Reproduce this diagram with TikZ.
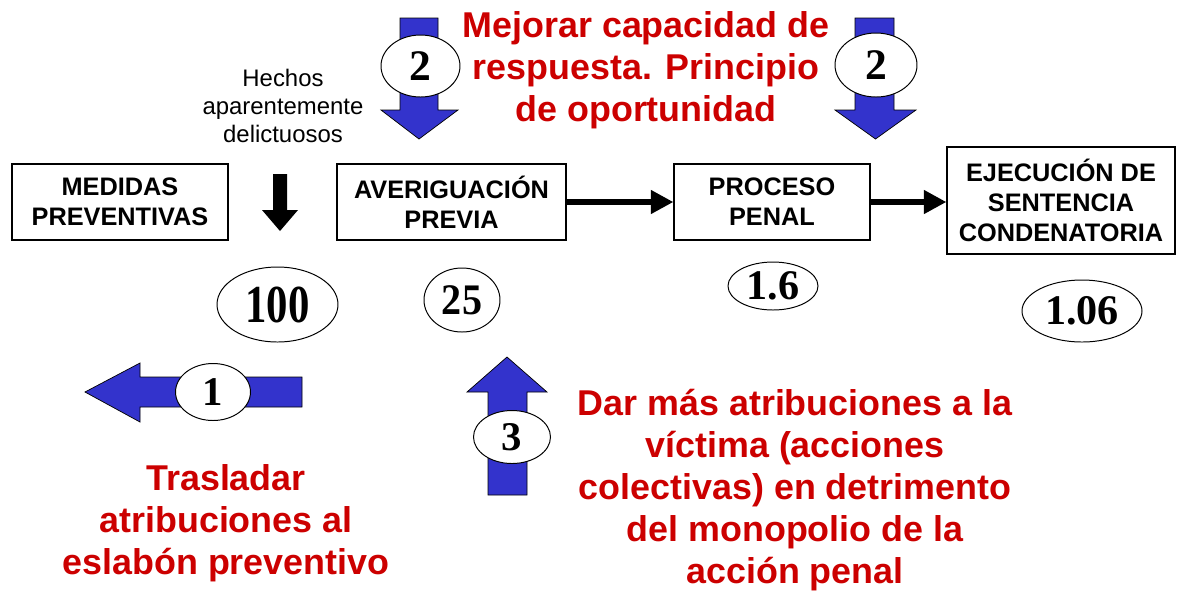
\documentclass[tikz,border=0pt]{standalone}
\usepackage{fontspec}
\setmainfont{Liberation Sans}
\newfontfamily\numfont{Liberation Serif}
\newcommand\px{0.025cm}
\usepackage{tikz}
\usetikzlibrary{positioning,shapes.geometric,arrows.meta}
\definecolor{arrowblue}{RGB}{51,51,204}
\definecolor{notered}{RGB}{204,0,0}
\tikzset{box/.style={rectangle,draw=black,line width=0.8pt,inner sep=0pt,align=center,font=\fontsize{18}{21.5}\selectfont\bfseries}}
\tikzset{num/.style={ellipse,draw=black,line width=0.7pt,fill=white,inner sep=0pt,font=\numfont\bfseries\fontsize{#1}{#1}\selectfont}}
\tikzset{note/.style={align=center,text=notered,font=\fontsize{25.5}{30}\selectfont\bfseries}}
\tikzset{blockarrow/.style={draw=black,line width=0.5pt,fill=arrowblue}}
\tikzset{link/.style={line width=4.2pt,-{Triangle[length=16pt,width=16pt]}}}

\begin{document}
\begin{tikzpicture}[x=\px,y=-\px]
                \useasboundingbox (0,0) rectangle (1180,595);

                \node[box, minimum width=216*\px, minimum height=76*\px] (med) at (120,202) {MEDIDAS\\PREVENTIVAS};
                \node[box, minimum width=229*\px, minimum height=76*\px] (ave) at (451.5,202) {AVERIGUACIÓN\\PREVIA};
                \node[box, minimum width=196*\px, minimum height=76*\px] (proc) at (772,202) {PROCESO\\PENAL};
                \node[box, minimum width=228*\px, minimum height=107*\px] (ejec) at (1061,200.5) {EJECUCIÓN DE\\SENTENCIA\\CONDENATORIA};

                \draw[link] (ave.east) -- (ave.east -| proc.west);
                \draw[link] (proc.east) -- (proc.east -| ejec.west);

                \node[align=center, font=\fontsize{17}{20}\selectfont] (hechos) at (283,106) {Hechos\\aparentemente\\delictuosos};
                \fill (273,174) -- (287,174) -- (287,210) -- (298,210) -- (280,231) -- (262,210) -- (273,210) -- cycle;

                \node[num=38, minimum width=121*\px, minimum height=75*\px] (n100) at (277.5,304.5) {\scalebox{0.8}[1]{100}};
                \node[num=31, minimum width=76*\px, minimum height=64*\px] (n25) at (462,300) {\scalebox{0.92}[1]{25}};
                \node[num=30, minimum width=90*\px, minimum height=48*\px] (n16) at (773,286) {1.6};
                \node[num=30, minimum width=120*\px, minimum height=62*\px] (n106) at (1082,311) {1.06};

                \draw[blockarrow] (400,18) -- (438,18) -- (438,110) -- (458,110) -- (419,139) -- (381,110) -- (400,110) -- cycle;
                \draw[blockarrow] (855,18) -- (894,18) -- (894,110) -- (916,110) -- (875.5,139) -- (835,110) -- (855,110) -- cycle;
                \draw[blockarrow] (302,377) -- (302,407) -- (140,407) -- (140,422) -- (85,392) -- (140,363) -- (140,377) -- cycle;
                \draw[blockarrow] (488,495) -- (527,495) -- (527,392) -- (547,392) -- (507,357) -- (467,392) -- (488,392) -- cycle;

                \node[num=31, minimum width=79*\px, minimum height=62*\px] (mej1) at (420.5,66) {2};
                \node[num=31, minimum width=82*\px, minimum height=64*\px] (mej2) at (876,65) {2};
                \node[num=29, minimum width=75*\px, minimum height=57*\px] (tras) at (213,392) {1};
                \node[num=29, minimum width=77*\px, minimum height=53*\px] (dar) at (512,437) {3};

                \node[note] (mejorar) at (646,70) {Mejorar capacidad de\\respuesta. Principio\\de oportunidad};
                \node[note] (trasladar) at (226,523) {Trasladar\\atribuciones al\\eslabón preventivo};
                \node[note] (darmas) at (795,490) {Dar más atribuciones a la\\víctima (acciones\\colectivas) en detrimento\\del monopolio de la\\acción penal};
            \end{tikzpicture}
\end{document}
